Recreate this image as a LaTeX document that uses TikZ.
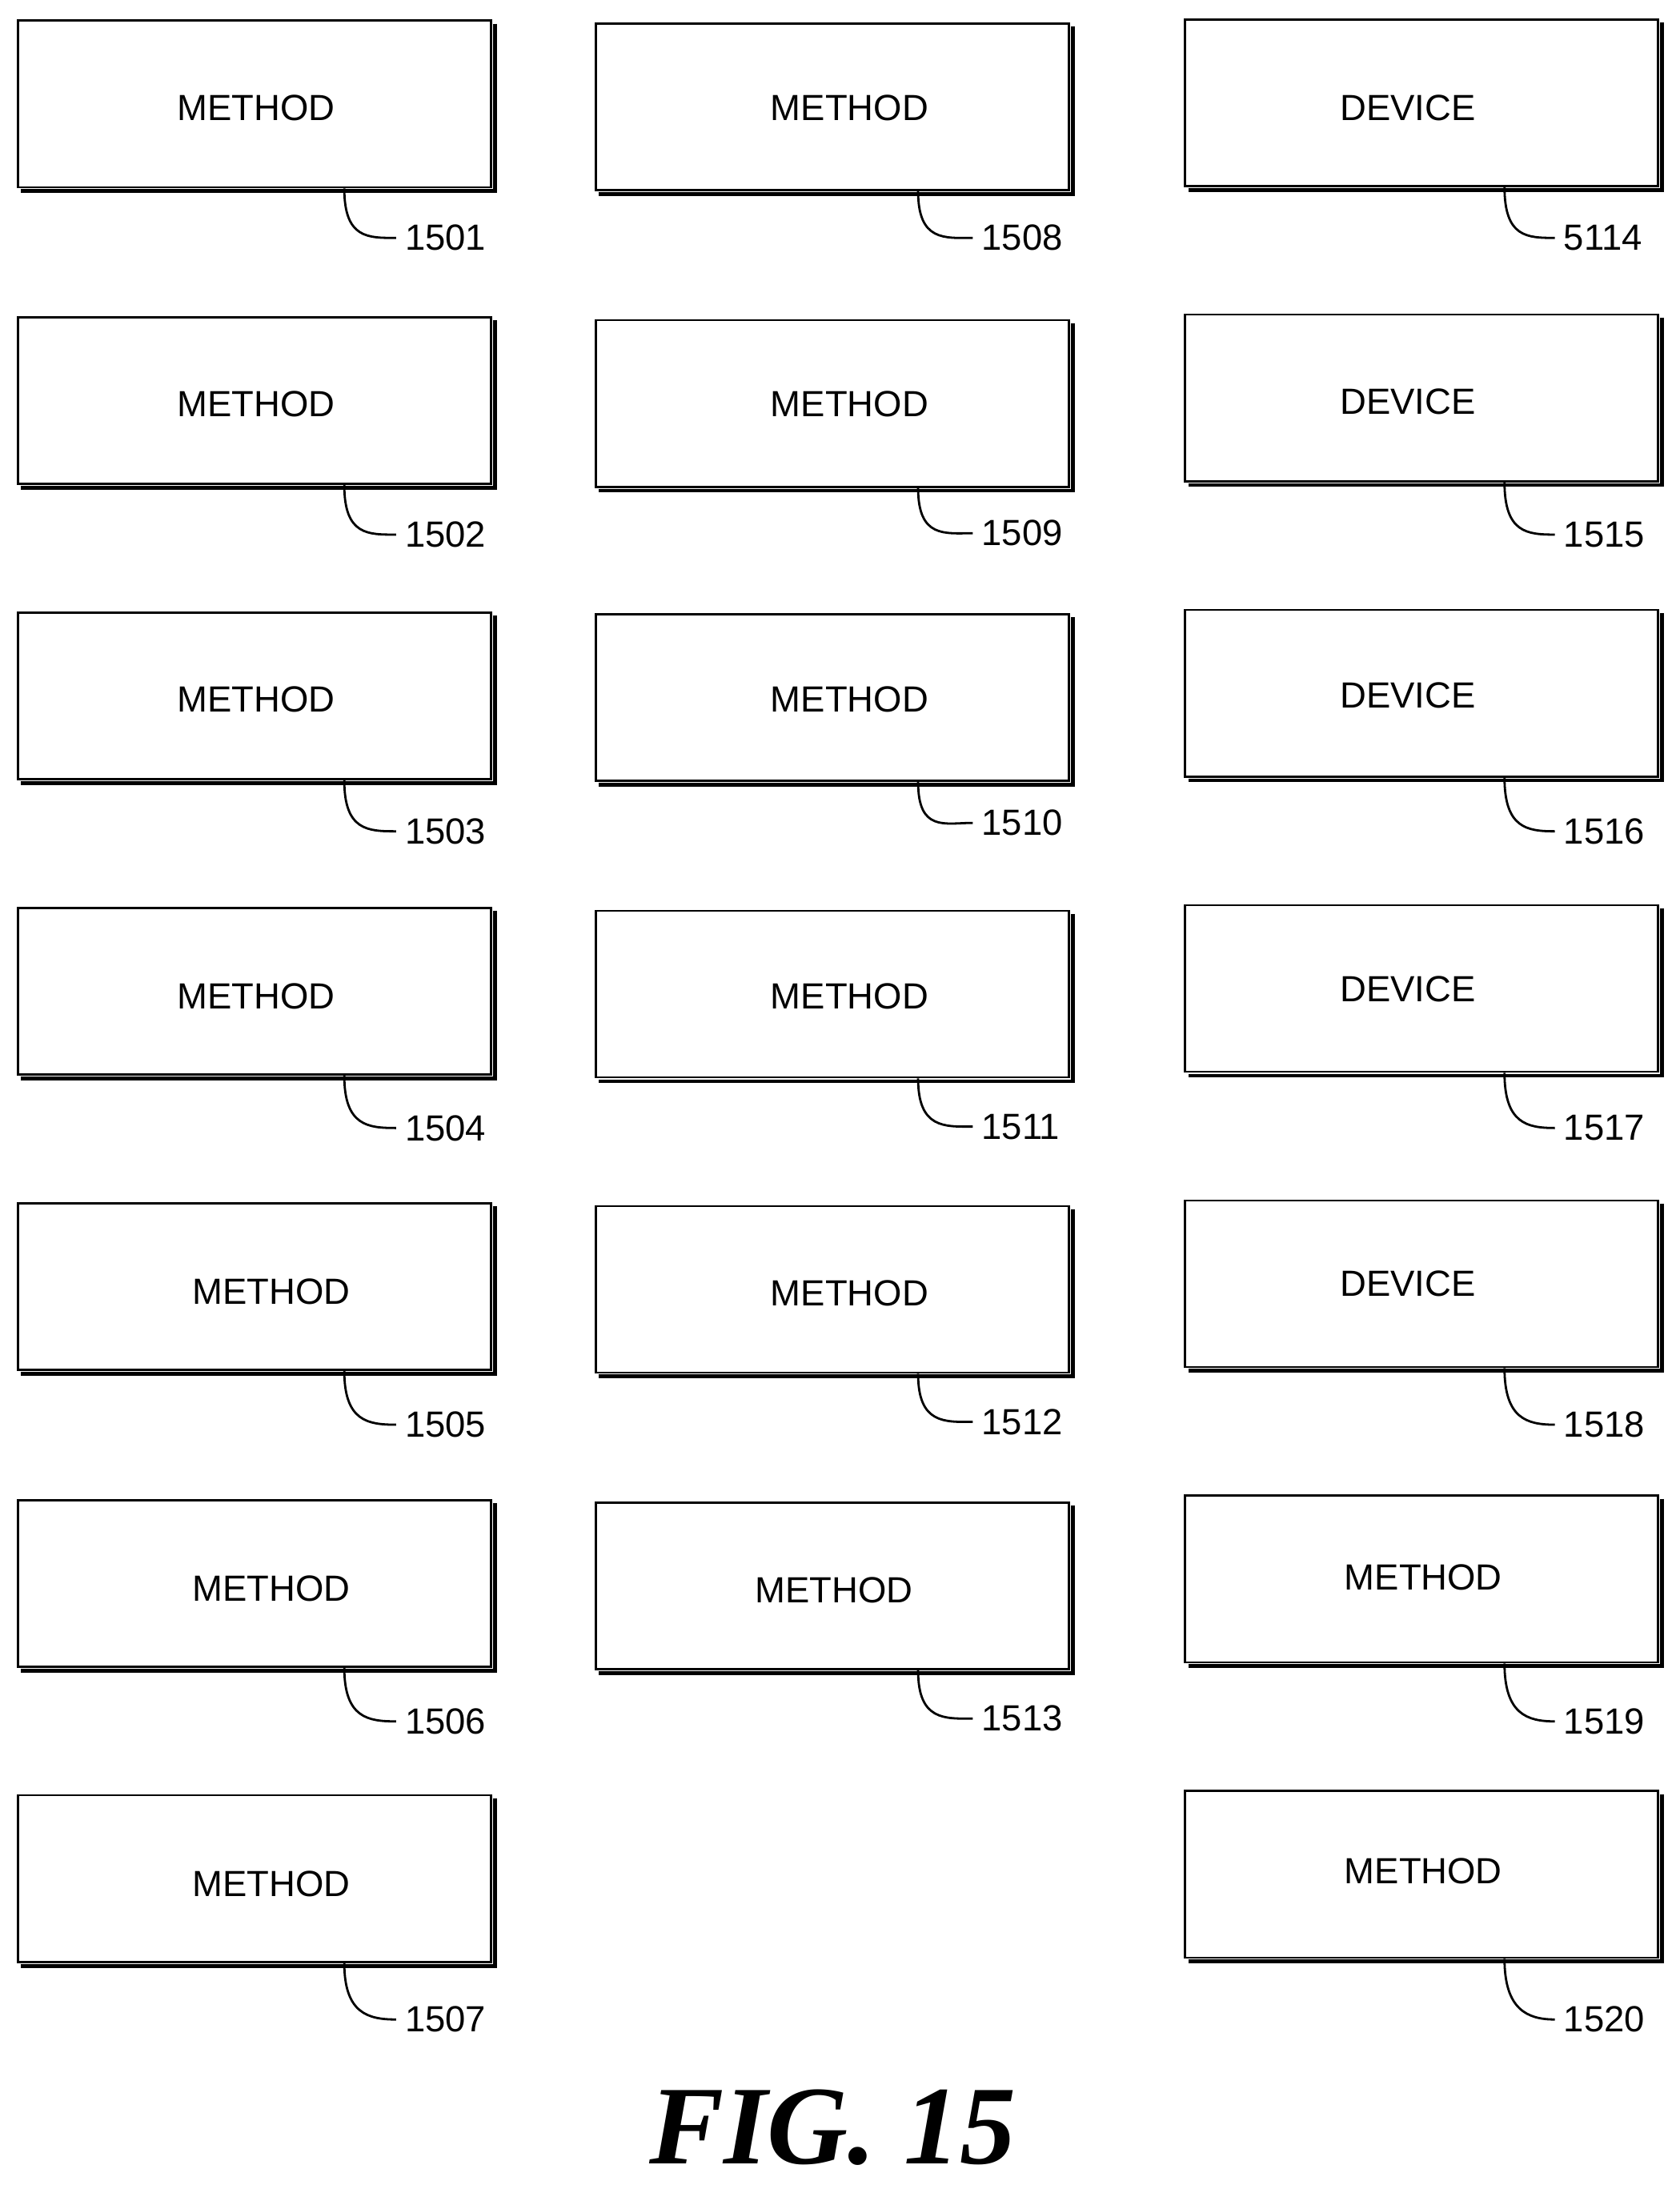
\documentclass[tikz,border=0pt]{standalone}
\usepackage{fontspec}
\setmainfont{Liberation Sans}
\newfontfamily\figfont{Liberation Serif}
\begin{document}
\begin{tikzpicture}[x=0.5pt,y=-0.5pt,
  box/.style={draw,line width=0.8pt,minimum width=169pt,minimum height=59.5pt,anchor=north west,inner sep=0pt},
  lbl/.style={font=\fontsize{13}{13}\selectfont,anchor=west,inner sep=1pt},
  btxt/.style={font=\fontsize{13}{13}\selectfont,inner sep=0pt},
  lead/.style={line width=0.8pt}]
\useasboundingbox (0,0) rectangle (1200,1567);
\newcommand{\ld}[3]{\coordinate (#1c) at (#2,0); \draw[lead] (#1.south -| #1c) .. controls ([yshift=-18pt]#1.south -| #1c) and ([xshift=-12pt]#1l.west) .. ([xshift=-2pt]#1l.west);}
\newcommand{\bx}[9]{%
  \node[box] (#1) at (#2,#3) {};
  \draw[line width=1.4pt] ([xshift=1pt,yshift=-1.5pt]#1.north east) -- ([xshift=1pt,yshift=-1pt]#1.south east) -- ([xshift=1.5pt,yshift=-1pt]#1.south west);
  \node[btxt] (#1t) at (#5,#6) {#4};
  \node[lbl] (#1l) at (#8,#9) {#7};}
% column 1
\bx{a1}{12}{14}{METHOD}{183}{77}{1501}{287}{170}
\bx{a2}{12}{226}{METHOD}{183}{289}{1502}{287}{382}
\bx{a3}{12}{437}{METHOD}{183}{500}{1503}{287}{594}
\bx{a4}{12}{648}{METHOD}{183}{712}{1504}{287}{806}
\bx{a5}{12}{859}{METHOD}{194}{923}{1505}{287}{1018}
\bx{a6}{12}{1071}{METHOD}{194}{1135}{1506}{287}{1230}
\bx{a7}{12}{1282}{METHOD}{194}{1346}{1507}{287}{1443}
% column 2
\bx{b1}{425}{16}{METHOD}{607}{77}{1508}{699}{170}
\bx{b2}{425}{228}{METHOD}{607}{289}{1509}{699}{381}
\bx{b3}{425}{438}{METHOD}{607}{500}{1510}{699}{588}
\bx{b4}{425}{650}{METHOD}{607}{712}{1511}{699}{805}
\bx{b5}{425}{861}{METHOD}{607}{924}{1512}{699}{1016}
\bx{b6}{425}{1073}{METHOD}{596}{1136}{1513}{699}{1228}
% column 3
\bx{c1}{846}{13}{DEVICE}{1006}{77}{5114}{1115}{170}
\bx{c2}{846}{224}{DEVICE}{1006}{287}{1515}{1115}{382}
\bx{c3}{846}{435}{DEVICE}{1006}{497}{1516}{1115}{594}
\bx{c4}{846}{646}{DEVICE}{1006}{707}{1517}{1115}{806}
\bx{c5}{846}{857}{DEVICE}{1006}{917}{1518}{1115}{1018}
\bx{c6}{846}{1068}{METHOD}{1017}{1127}{1519}{1115}{1230}
\bx{c7}{846}{1279}{METHOD}{1017}{1337}{1520}{1115}{1443}
\foreach \n in {a1,a2,a3,a4,a5,a6,a7}{\ld{\n}{246}{}}
\foreach \n in {b1,b2,b3,b4,b5,b6}{\ld{\n}{656}{}}
\foreach \n in {c1,c2,c3,c4,c5,c6,c7}{\ld{\n}{1075}{}}
\node[font=\figfont\bfseries\itshape\fontsize{40}{40}\selectfont] (fig) at (595,1520) {FIG. 15};
\end{tikzpicture}
\end{document}
